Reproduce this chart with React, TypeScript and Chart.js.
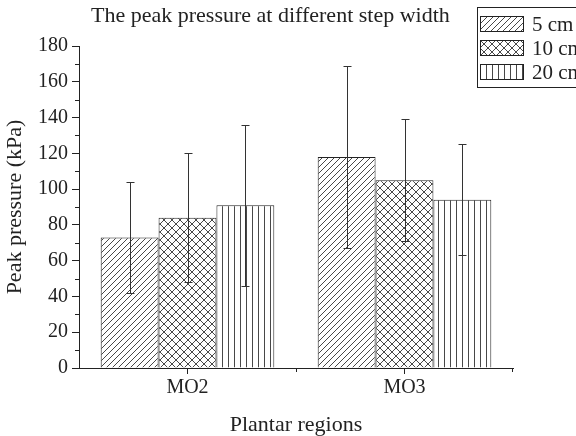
import React, { useEffect, useRef } from 'react';
import { Chart, registerables } from 'chart.js';

Chart.register(...registerables);

const categories = ['MO2', 'MO3'];
const seriesLabels = ['5 cm', '10 cm', '20 cm'];
const mean5 = [73, 118];
const sd5 = [31, 51];
const mean10 = [84, 105];
const sd10 = [36, 34];
const mean20 = [91, 94];
const sd20 = [45, 31];
const yMin = 0;
const yMax = 180;
const yStep = 20;
const yMinorStep = 10;
const chartTitle = 'The peak pressure at different step width';
const xTitle = 'Plantar regions';
const yTitle = 'Peak pressure (kPa)';

const FONT = '"Liberation Serif", "Times New Roman", serif';
const INK = '#222';

function makePattern(kind: string): CanvasPattern | string {
  const c = document.createElement('canvas');
  const s = kind === 'cross' ? 8 : kind === 'vert' ? 6 : 6;
  c.width = s;
  c.height = s;
  const g = c.getContext('2d');
  if (!g) return '#fff';
  g.fillStyle = '#fff';
  g.fillRect(0, 0, s, s);
  g.strokeStyle = '#333';
  g.lineWidth = 0.9;
  g.beginPath();
  if (kind === 'diag' || kind === 'cross') {
    g.moveTo(-1, s + 1); g.lineTo(s + 1, -1);
    g.moveTo(-1, 1); g.lineTo(1, -1);
    g.moveTo(s - 1, s + 1); g.lineTo(s + 1, s - 1);
  }
  if (kind === 'cross') {
    g.moveTo(-1, -1); g.lineTo(s + 1, s + 1);
    g.moveTo(s - 1, -1); g.lineTo(s + 1, 1);
    g.moveTo(-1, s - 1); g.lineTo(1, s + 1);
  }
  if (kind === 'vert') {
    g.moveTo(0.5, 0); g.lineTo(0.5, s);
  }
  g.stroke();
  const p = g.createPattern(c, 'repeat');
  return p || '#fff';
}

export default function App() {
  const ref = useRef<HTMLCanvasElement | null>(null);

  useEffect(() => {
    const canvas = ref.current;
    if (!canvas) return;
    const patterns = [makePattern('diag'), makePattern('cross'), makePattern('vert')];
    const means = [mean5, mean10, mean20];
    const sds = [sd5, sd10, sd20];

    const errorBars = {
      id: 'errorBars',
      afterDatasetsDraw(chart: any) {
        const ctx = chart.ctx;
        const ys = chart.scales.y;
        ctx.save();
        ctx.strokeStyle = '#333';
        ctx.lineWidth = 1;
        chart.data.datasets.forEach((ds: any, i: number) => {
          const meta = chart.getDatasetMeta(i);
          meta.data.forEach((bar: any, j: number) => {
            const m = ds.data[j];
            const e = ds.errors[j];
            const x = Math.round(bar.x) + 0.5;
            const yt = Math.round(ys.getPixelForValue(m + e)) + 0.5;
            const yb = Math.round(ys.getPixelForValue(m - e)) + 0.5;
            ctx.beginPath();
            ctx.moveTo(x, yt); ctx.lineTo(x, yb);
            ctx.moveTo(x - 4, yt); ctx.lineTo(x + 4, yt);
            ctx.moveTo(x - 4, yb); ctx.lineTo(x + 4, yb);
            ctx.stroke();
          });
        });
        ctx.restore();
      },
    };

    const decor = {
      id: 'decor',
      afterDraw(chart: any) {
        const ctx = chart.ctx;
        const ys = chart.scales.y;
        const area = chart.chartArea;
        ctx.save();
        ctx.strokeStyle = INK;
        ctx.lineWidth = 1;
        // minor y ticks
        ctx.beginPath();
        for (let v = yMin + yMinorStep; v < yMax; v += yStep) {
          const y = Math.round(ys.getPixelForValue(v)) + 0.5;
          ctx.moveTo(area.left - 4, y); ctx.lineTo(area.left, y);
        }
        // minor x ticks at category boundaries
        const mid = Math.round((area.left + area.right) / 2) + 0.5;
        const r = Math.round(area.right) - 0.5;
        const b = Math.round(area.bottom);
        ctx.moveTo(mid, b); ctx.lineTo(mid, b + 4);
        ctx.moveTo(r, b); ctx.lineTo(r, b + 4);
        ctx.stroke();

        // title
        ctx.fillStyle = INK;
        ctx.font = '22px ' + FONT;
        ctx.textAlign = 'left';
        ctx.textBaseline = 'middle';
        ctx.fillText(chartTitle, 91, 16);

        // legend
        const bx = 477.5, by = 7.5;
        ctx.fillStyle = '#fff';
        ctx.fillRect(bx, by, 120, 80);
        ctx.strokeRect(bx, by, 120, 80);
        const rowsY = [24, 48, 72];
        chart.data.datasets.forEach((ds: any, i: number) => {
          const cy = rowsY[i];
          ctx.fillStyle = ds.backgroundColor;
          ctx.fillRect(480, cy - 8, 43, 15);
          ctx.strokeRect(480.5, cy - 7.5, 43, 15);
          ctx.fillStyle = INK;
          ctx.font = '21px ' + FONT;
          ctx.fillText(ds.label, 532, cy + 1);
        });
        ctx.restore();
      },
    };

    const chart = new Chart(canvas, {
      type: 'bar',
      data: {
        labels: categories,
        datasets: seriesLabels.map((label, i) => ({
          label,
          data: means[i],
          errors: sds[i],
          backgroundColor: patterns[i],
          borderColor: INK,
          borderWidth: 1,
          categoryPercentage: 0.8,
          barPercentage: 1.0,
        })) as any,
      },
      options: {
        animation: false,
        responsive: false,
        devicePixelRatio: 1,
        layout: { padding: { top: 46, right: 63, left: 0, bottom: 0 } },
        plugins: {
          legend: { display: false },
          title: { display: false },
          tooltip: { enabled: false },
        },
        scales: {
          x: {
            grid: {
              display: true,
              offset: false,
              drawOnChartArea: false,
              drawTicks: true,
              tickLength: 6,
              color: INK,
            },
            border: { display: true, color: INK, width: 1 },
            ticks: { color: INK, font: { family: FONT, size: 20 }, padding: 2 },
            title: {
              display: true,
              text: xTitle,
              color: INK,
              font: { family: FONT, size: 22, lineHeight: 1 },
              padding: { top: 0, bottom: 0 },
            },
            afterFit(scale: any) { scale.height = 68; },
          },
          y: {
            min: yMin,
            max: yMax,
            grid: {
              display: true,
              drawOnChartArea: false,
              drawTicks: true,
              tickLength: 7,
              color: INK,
            },
            border: { display: true, color: INK, width: 1 },
            ticks: { stepSize: yStep, color: INK, font: { family: FONT, size: 20 }, padding: 4 },
            title: {
              display: true,
              text: yTitle,
              color: INK,
              font: { family: FONT, size: 22, lineHeight: 1.2 },
              padding: { top: 2, bottom: 0 },
            },
            afterFit(scale: any) { scale.width = 79; },
          },
        },
      } as any,
      plugins: [errorBars, decor],
    });
    return () => chart.destroy();
  }, []);

  return (
    <div style={{ position: 'fixed', left: 0, top: 0, width: 576, height: 436, background: '#fff' }}>
      <canvas ref={ref} width={576} height={436} style={{ width: 576, height: 436, display: 'block' }} />
    </div>
  );
}
